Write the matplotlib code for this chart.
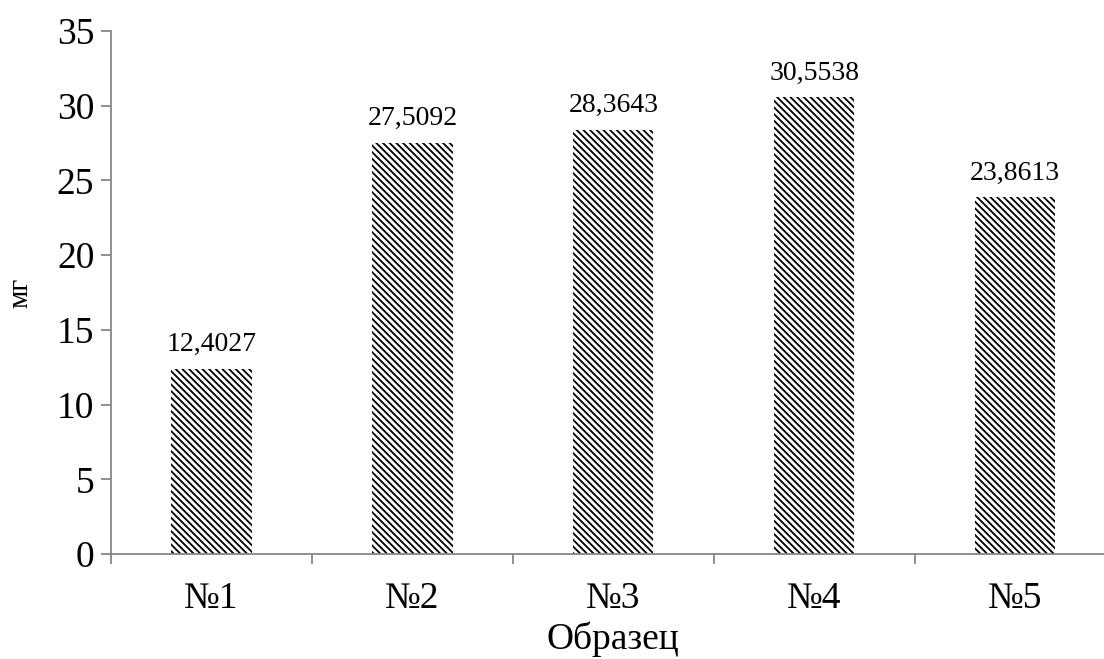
import numpy as np
import matplotlib
matplotlib.use("Agg")
import matplotlib.pyplot as plt

# ── Daten ─────────────────────────────────────────────────────────────
obrazcy = ["№1", "№2", "№3", "№4", "№5"]
massa_mg = [12.4027, 27.5092, 28.3643, 30.5538, 23.8613]
y_ticks = [0, 5, 10, 15, 20, 25, 30, 35]

plt.rcParams["font.family"] = ["Liberation Serif", "DejaVu Serif"]
plt.rcParams["hatch.linewidth"] = 1.3

grau = "#868686"

fig = plt.figure(figsize=(11.04, 6.59), dpi=100)
ax = fig.add_axes([0.1005, 0.1593, 0.910, 0.7936])

x = np.arange(len(obrazcy))
ax.bar(x, massa_mg, width=0.4, color="white", edgecolor="black",
       hatch="\\\\\\\\\\", linewidth=0)

for xi, wert in zip(x, massa_mg):
    ax.annotate(f"{wert:.4f}".replace(".", ","), (xi, wert),
                xytext=(0, 13), textcoords="offset points",
                ha="center", va="baseline", fontsize=20)

ax.set_xlim(-0.5, len(obrazcy) - 0.5)
ax.set_ylim(0, 35)
ax.set_yticks(y_ticks)

# Striche zwischen den Kategorien, Beschriftung in der Mitte
ax.set_xticks(np.arange(-0.5, len(obrazcy)), labels=[""] * (len(obrazcy) + 1))
ax.set_xticks(x, labels=obrazcy, minor=True)
ax.tick_params(axis="x", which="major", length=7, color=grau, width=1.3)
ax.tick_params(axis="x", which="minor", length=0, labelsize=27, pad=20)
ax.tick_params(axis="y", length=7, color=grau, width=1.3, labelsize=27, pad=5)

for seite in ["top", "right"]:
    ax.spines[seite].set_visible(False)
for seite in ["left", "bottom"]:
    ax.spines[seite].set_color(grau)
    ax.spines[seite].set_linewidth(1.3)

ax.set_ylabel("мг", fontsize=21, labelpad=17)
ax.set_xlabel("Образец", fontsize=27, labelpad=4)

fig.savefig("out.png", dpi=100)
